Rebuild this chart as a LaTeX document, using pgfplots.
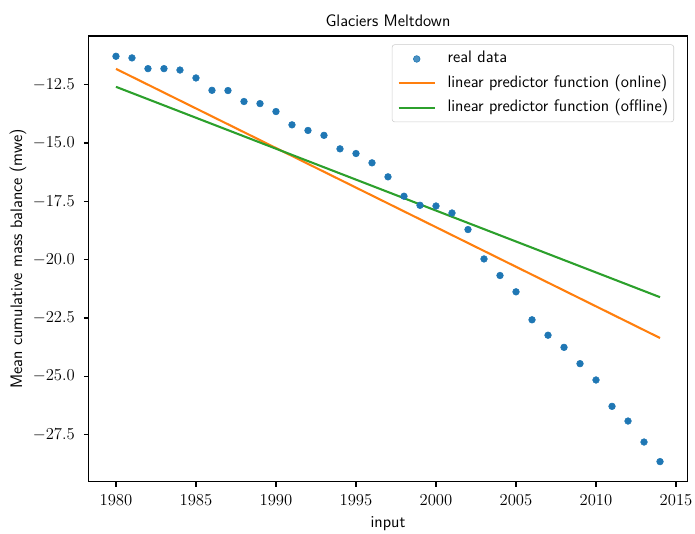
\documentclass[border=0pt]{standalone}
\usepackage{pgfplots}
\pgfplotsset{compat=1.18}
\definecolor{tabblue}{HTML}{1F77B4}
\definecolor{taborange}{HTML}{FF7F0E}
\definecolor{tabgreen}{HTML}{2CA02C}

% legend images: a short line for the fits, a single dot for the measurements
\pgfplotsset{
  linelegend/.style={legend image code/.code={\draw[##1] (0pt,0pt) -- (26pt,0pt);}},
  dotlegend/.style={legend image code/.code={\draw[##1] plot coordinates {(13pt,0pt)};}},
}

% Mean cumulative mass balance of reference glaciers, by year
\pgfplotstableread{
year  mwe
1980 -11.28
1981 -11.35
1982 -11.81
1983 -11.81
1984 -11.87
1985 -12.21
1986 -12.74
1987 -12.75
1988 -13.22
1989 -13.31
1990 -13.65
1991 -14.22
1992 -14.46
1993 -14.67
1994 -15.25
1995 -15.45
1996 -15.85
1997 -16.45
1998 -17.28
1999 -17.67
2000 -17.70
2001 -18.00
2002 -18.71
2003 -19.97
2004 -20.68
2005 -21.38
2006 -22.58
2007 -23.24
2008 -23.76
2009 -24.46
2010 -25.16
2011 -26.29
2012 -26.92
2013 -27.82
2014 -28.66
}\realdata

\begin{document}
\begin{tikzpicture}
\useasboundingbox (-63.9pt,-36.8pt) rectangle (436.4pt,346.9pt);
\begin{axis}[
  scale only axis,
  width=430.8pt, height=321pt,
  at={(0,0)}, anchor=south west,
  xmin=1978.3, xmax=2015.7,
  ymin=-29.53, ymax=-10.41,
  xtick={1980,1985,...,2015},
  ytick={-27.5,-25,-22.5,-20,-17.5,-15,-12.5},
  scaled ticks=false,
  tick label style={font=\fontsize{12}{14}\selectfont},
  xticklabel style={yshift=-2pt, /pgf/number format/.cd, 1000 sep={}},
  yticklabel style={xshift=-3pt, /pgf/number format/.cd, fixed, fixed zerofill, precision=1},
  tick align=outside,
  xtick pos=bottom, ytick pos=left,
  major tick length=3.5pt,
  every tick/.style={black, line width=0.8pt},
  axis line style={line width=0.8pt},
  title={Glaciers Meltdown},
  every axis title/.style={font=\sffamily\fontsize{12}{14}\selectfont,
    at={(axis description cs:0.5,1)}, anchor=base, yshift=7pt, inner sep=0pt},
  xlabel={input},
  ylabel={Mean cumulative mass balance (mwe)},
  xlabel style={font=\sffamily\fontsize{12}{14}\selectfont, at={(axis description cs:0.5,-0.094)}, anchor=center},
  ylabel style={font=\sffamily\fontsize{12}{14}\selectfont, at={(axis description cs:-0.1185,0.5)}, anchor=center},
  legend style={
    at={(1,1)}, anchor=north east, xshift=-9.5pt, yshift=-6pt,
    draw=black!20, rounded corners=2pt, fill=white, fill opacity=0.8, text opacity=1,
    font=\sffamily\fontsize{12}{14}\selectfont,
    inner xsep=4pt, inner ysep=4.6pt,
    row sep=6pt, column sep=8.4pt,
    nodes={inner sep=0pt, text height=8.5pt, text depth=3pt},
  },
  legend cell align=left,
  linelegend,
]
\addplot[only marks, mark=*, mark size=2.4pt, color=tabblue,
  mark options={draw=none, fill=tabblue}, dotlegend]
  table[x=year, y=mwe] {\realdata};
\addlegendentry{real data}
\addplot[taborange, line width=1.5pt] coordinates {(1980,-11.82) (2014,-23.36)};
\addlegendentry{linear predictor function (online)}
\addplot[tabgreen, line width=1.5pt] coordinates {(1980,-12.59) (2014,-21.61)};
\addlegendentry{linear predictor function (offline)}
\end{axis}
\end{tikzpicture}
\end{document}
